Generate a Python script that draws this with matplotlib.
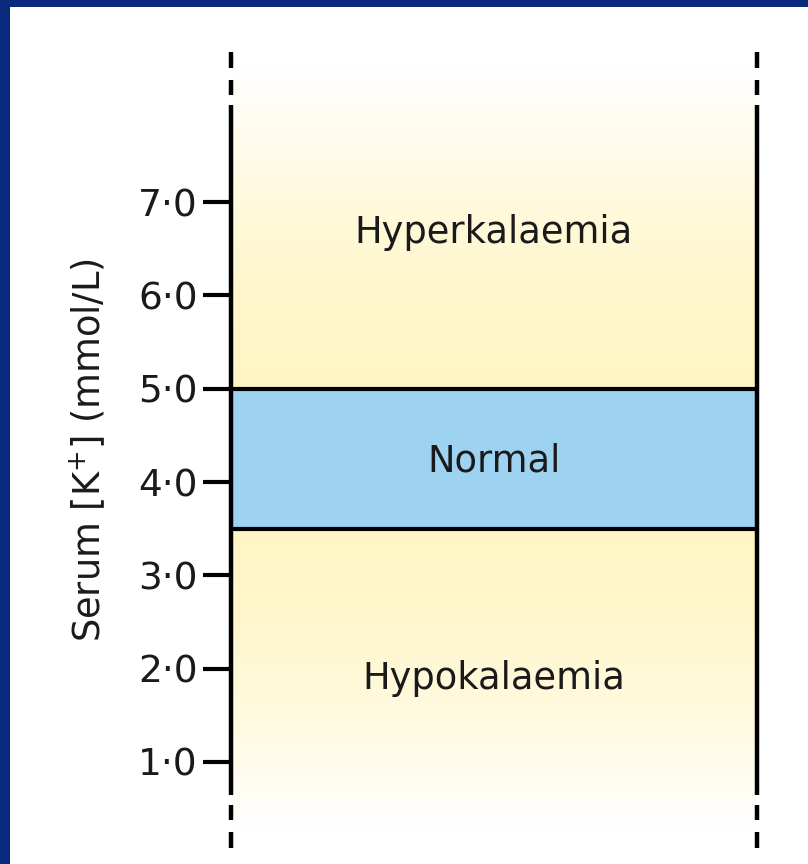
import numpy as np
import matplotlib
matplotlib.use("Agg")
from matplotlib import pyplot as plt
from matplotlib.patches import Rectangle

# chart values
tick_values = [1.0, 2.0, 3.0, 4.0, 5.0, 6.0, 7.0]
tick_labels = ["1\u00b70", "2\u00b70", "3\u00b70", "4\u00b70", "5\u00b70", "6\u00b70", "7\u00b70"]
normal_low = 3.5
normal_high = 5.0
zone_names = ["Hyperkalaemia", "Normal", "Hypokalaemia"]
zone_label_y = [6.67, 4.22, 1.89]
y_label = "Serum [K$^{+}$] (mmol/L)"

# vertical axis line pieces (solid part, then dashes above and below)
solid_span = (0.65, 8.04)
dash_spans = [(8.15, 8.31), (8.44, 8.61), (0.38, 0.54), (0.08, 0.25)]

YLIM = (0.057, 8.629)
NAVY = "#0a2a7d"
BLUE = "#9dd3f1"
YELLOW = np.array([1.0, 0.962, 0.77])

plt.rcParams["font.family"] = ["DejaVu Sans"]
plt.rcParams["mathtext.fontset"] = "dejavusans"

fig = plt.figure(figsize=(8.08, 8.64), dpi=100)
fig.patch.set_facecolor(NAVY)
fig.patches.append(Rectangle((10 / 808, 0), 798 / 808, 857 / 864,
                             transform=fig.transFigure, facecolor="white",
                             edgecolor="none", zorder=-10))

ax = fig.add_axes([231 / 808, 14 / 864, 526 / 808, 800 / 864])
ax.set_ylim(*YLIM)
ax.set_xlim(0, 1)

# yellow gradient fading to white away from the normal band
ys = np.linspace(YLIM[0], YLIM[1], 600)
t = np.zeros_like(ys)
up = ys >= normal_high
t[up] = np.clip((ys[up] - normal_high) / (8.45 - normal_high), 0, 1)
dn = ys <= normal_low
t[dn] = np.clip((normal_low - ys[dn]) / (normal_low - 0.3), 0, 1)
t = t ** 1.6
rgb = YELLOW[None, :] * (1 - t[:, None]) + np.ones(3)[None, :] * t[:, None]
img = np.repeat(rgb[:, None, :], 2, axis=1)
ax.imshow(img, origin="lower", aspect="auto", extent=[0, 1, YLIM[0], YLIM[1]], zorder=0)

ax.axhspan(normal_low, normal_high, color=BLUE, zorder=1)
ax.axhline(normal_high, color="black", lw=3, zorder=2)
ax.axhline(normal_low, color="black", lw=3, zorder=2)

for x in (0, 1):
    ax.plot([x, x], solid_span, color="black", lw=3.2, solid_capstyle="butt", clip_on=False, zorder=3)
    for a, b in dash_spans:
        ax.plot([x, x], [a, b], color="black", lw=3.2, solid_capstyle="butt", clip_on=False, zorder=3)

for name, yv in zip(zone_names, zone_label_y):
    ax.text(0.5, yv, name, ha="center", va="center", fontsize=26.5, color="#1a1a1a", zorder=4)

for s in ax.spines.values():
    s.set_visible(False)
ax.set_xticks([])
ax.set_yticks(tick_values)
ax.set_yticklabels(tick_labels, fontsize=27, color="#1a1a1a")
ax.tick_params(axis="y", length=20, width=3, pad=4, direction="out")
ax.set_ylabel(y_label, fontsize=26.5, color="#1a1a1a", labelpad=21)

fig.savefig("out.png", dpi=100, facecolor=fig.get_facecolor())
